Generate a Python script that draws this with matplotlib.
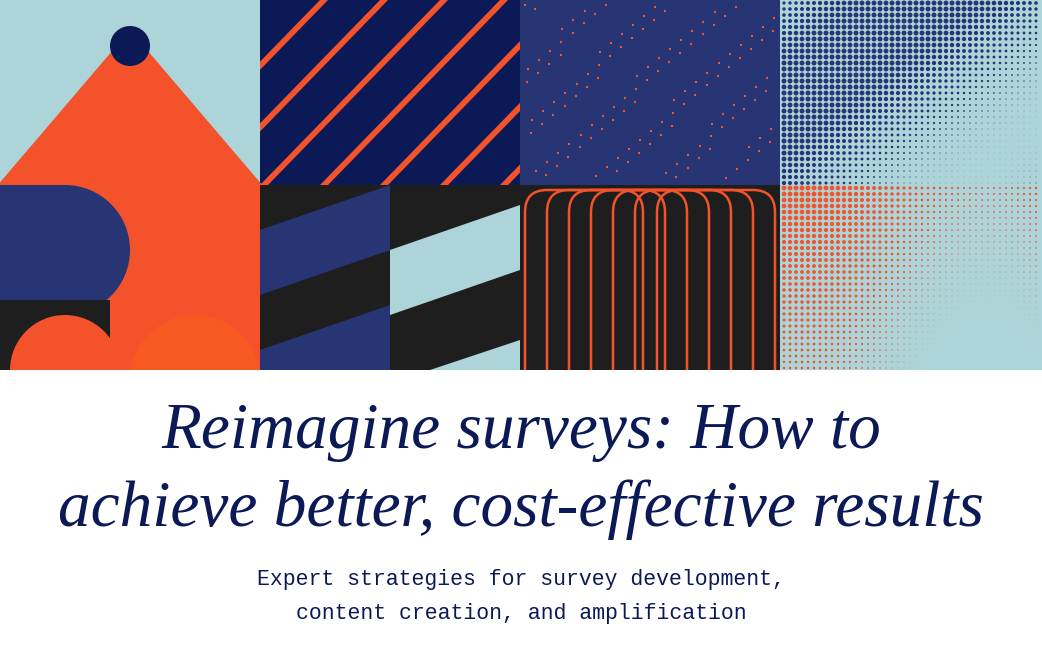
import numpy as np
import matplotlib
matplotlib.use("Agg")
import matplotlib.pyplot as plt
from matplotlib.patches import Rectangle, Polygon, Circle, FancyBboxPatch

title_lines = ["Reimagine surveys: How to", "achieve better, cost-effective results"]
subtitle_lines = ["Expert strategies for survey development,", "content creation, and amplification"]
arch_offsets = [0, 22, 44, 66, 88, 110, 132]

LB, OR, NV, BL, DK = "#add4d8", "#f4522b", "#0b1a56", "#283574", "#1e1e1e"

fig = plt.figure(figsize=(10.42, 6.56), dpi=100)
ax = fig.add_axes([0, 0, 1, 1])
ax.set_xlim(0, 1042); ax.set_ylim(656, 0); ax.axis("off")

def rect(x, y, w, h, c, **k):
    ax.add_patch(Rectangle((x, y), w, h, color=c, lw=0, **k))

# tile 2 top
rect(260, 0, 260, 185, NV)
for k in range(-2, 7):
    x0 = 260 + k * 60
    ax.add_patch(Polygon([(x0 + 180, 0), (x0 + 188, 0), (x0 + 8, 185), (x0, 185)], color=OR, lw=0))
# tile 3 top speckles
rect(520, 0, 260, 185, BL)
xs = 525 + (np.arange(140) * 37.3) % 250
ys = 5 + (np.arange(140) * 23.7) % 175
ax.scatter(xs, ys, s=3, c=OR, marker="_", linewidths=1.5)
# tile 1 top
rect(0, 0, 260, 185, LB)
ax.add_patch(Polygon([(130, 30), (-15, 200), (275, 200)], color=OR, lw=0))
ax.add_patch(Circle((130, 46), 20, color=NV, lw=0))
# tile 1 bottom
rect(0, 185, 260, 185, OR)
ax.add_patch(Circle((65, 250), 65, color=BL, lw=0))
rect(0, 185, 65, 130, BL)
rect(0, 300, 110, 70, DK)
ax.add_patch(Circle((65, 370), 55, color=OR, lw=0))
ax.add_patch(Circle((195, 380), 65, color="#f65a22", lw=0))
# tile 2 bottom
rect(260, 185, 260, 185, DK)
ax.add_patch(Polygon([(260, 230), (390, 185), (390, 250), (260, 295)], color=BL, lw=0))
ax.add_patch(Polygon([(390, 250), (520, 205), (520, 270), (390, 315)], color=LB, lw=0))
ax.add_patch(Polygon([(260, 350), (390, 305), (390, 370), (260, 370)], color=BL, lw=0))
ax.add_patch(Polygon([(430, 370), (520, 340), (520, 370)], color=LB, lw=0))
# tile 3 bottom arches
rect(520, 185, 260, 185, DK)
for o in arch_offsets:
    ax.add_patch(FancyBboxPatch((525 + o, 190), 118, 240, boxstyle="round,pad=0,rounding_size=22",
                                fc="none", ec=OR, lw=1.8))
# tile 4 halftone
rect(780, 0, 262, 185, LB)
rect(780, 185, 262, 185, LB)
gx, gy = np.meshgrid(np.arange(784, 1042, 6), np.arange(3, 185, 6))
d = np.clip(0.6 + 0.5 * np.sin((gx - 780) / 90.0 + gy / 70.0), 0, 1)
ax.scatter(gx.ravel(), gy.ravel(), s=(d.ravel() * 4) ** 2 * 0.8, c=BL, lw=0)
gx2, gy2 = np.meshgrid(np.arange(784, 1042, 6), np.arange(188, 370, 6))
d2 = np.clip(0.7 - 0.5 * (gy2 - 185) / 185 + 0.3 * np.cos((gx2 - 800) / 60.0), 0, 1)
ax.scatter(gx2.ravel(), gy2.ravel(), s=(d2.ravel() * 4) ** 2 * 0.8, c=OR, lw=0)
rect(0, 370, 1042, 290, "white")

for i, t in enumerate(title_lines):
    ax.text(521, 432 + i * 78, t, ha="center", va="center", fontsize=47, style="italic",
            family="Liberation Serif", color=NV)
for i, t in enumerate(subtitle_lines):
    ax.text(521, 580 + i * 33, t, ha="center", va="center", fontsize=15.5,
            family="Liberation Mono", color=NV)

fig.savefig("out.png", dpi=100)
